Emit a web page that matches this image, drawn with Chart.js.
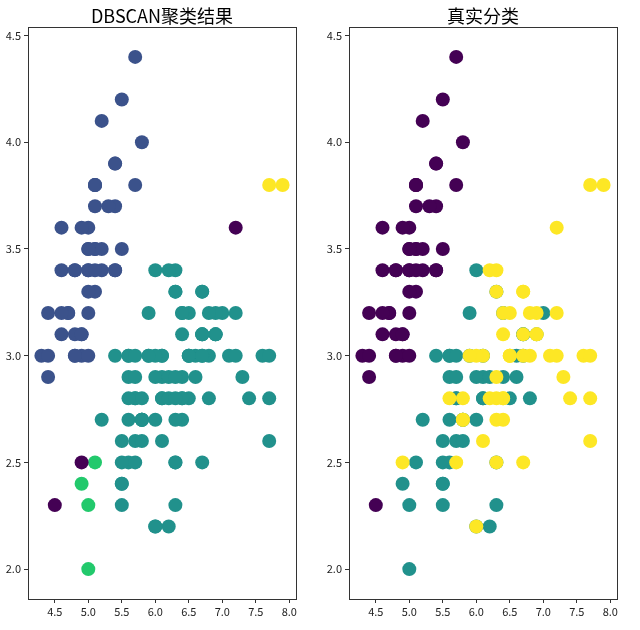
<!DOCTYPE html>
<html>
<head>
<meta charset="utf-8">
<script src="https://cdn.jsdelivr.net/npm/chart.js@4.4.0/dist/chart.umd.min.js"></script>
<style>
  body { margin: 0; background: #fff; }
  #wrap { position: relative; width: 640px; height: 630px; }
  canvas { position: absolute; top: 0; }
</style>
</head>
<body>
<div id="wrap">
  <canvas id="left" width="320" height="630" style="left:0"></canvas>
  <canvas id="right" width="320" height="630" style="left:321px"></canvas>
</div>
<script>
// iris: sepal length / sepal width
const sepalLength = [
  5.1,4.9,4.7,4.6,5.0,5.4,4.6,5.0,4.4,4.9,
  5.4,4.8,4.8,4.3,5.8,5.7,5.4,5.1,5.7,5.1,
  5.4,5.1,4.6,5.1,4.8,5.0,5.0,5.2,5.2,4.7,
  4.8,5.4,5.2,5.5,4.9,5.0,5.5,4.9,4.4,5.1,
  5.0,4.5,4.4,5.0,5.1,4.8,5.1,4.6,5.3,5.0,
  7.0,6.4,6.9,5.5,6.5,5.7,6.3,4.9,6.6,5.2,
  5.0,5.9,6.0,6.1,5.6,6.7,5.6,5.8,6.2,5.6,
  5.9,6.1,6.3,6.1,6.4,6.6,6.8,6.7,6.0,5.7,
  5.5,5.5,5.8,6.0,5.4,6.0,6.7,6.3,5.6,5.5,
  5.5,6.1,5.8,5.0,5.6,5.7,5.7,6.2,5.1,5.7,
  6.3,5.8,7.1,6.3,6.5,7.6,4.9,7.3,6.7,7.2,
  6.5,6.4,6.8,5.7,5.8,6.4,6.5,7.7,7.7,6.0,
  6.9,5.6,7.7,6.3,6.7,7.2,6.2,6.1,6.4,7.2,
  7.4,7.9,6.4,6.3,6.1,7.7,6.3,6.4,6.0,6.9,
  6.7,6.9,5.8,6.8,6.7,6.7,6.3,6.5,6.2,5.9
];
const sepalWidth = [
  3.5,3.0,3.2,3.1,3.6,3.9,3.4,3.4,2.9,3.1,
  3.7,3.4,3.0,3.0,4.0,4.4,3.9,3.5,3.8,3.8,
  3.4,3.7,3.6,3.3,3.4,3.0,3.4,3.5,3.4,3.2,
  3.1,3.4,4.1,4.2,3.1,3.2,3.5,3.6,3.0,3.4,
  3.5,2.3,3.2,3.5,3.8,3.0,3.8,3.2,3.7,3.3,
  3.2,3.2,3.1,2.3,2.8,2.8,3.3,2.4,2.9,2.7,
  2.0,3.0,2.2,2.9,2.9,3.1,3.0,2.7,2.2,2.5,
  3.2,2.8,2.5,2.8,2.9,3.0,2.8,3.0,2.9,2.6,
  2.4,2.4,2.7,2.7,3.0,3.4,3.1,2.3,3.0,2.5,
  2.6,3.0,2.6,2.3,2.7,3.0,2.9,2.9,2.5,2.8,
  3.3,2.7,3.0,2.9,3.0,3.0,2.5,2.9,2.5,3.6,
  3.2,2.7,3.0,2.5,2.8,3.2,3.0,3.8,2.6,2.2,
  3.2,2.8,2.8,2.7,3.3,3.2,2.8,3.0,2.8,3.0,
  2.8,3.8,2.8,2.8,2.6,3.0,3.4,3.1,3.0,3.1,
  3.1,3.1,2.7,3.2,3.3,3.0,2.5,3.0,3.4,3.0
];
const dbscanLabels = [
  0,0,0,0,0,0,0,0,0,0,
  0,0,0,0,0,0,0,0,0,0,
  0,0,0,0,0,0,0,0,0,0,
  0,0,0,0,0,0,0,0,0,0,
  0,-1,0,0,0,0,0,0,0,0,
  1,1,1,1,1,1,1,2,1,1,
  2,1,1,1,1,1,1,1,1,1,
  1,1,1,1,1,1,1,1,1,1,
  1,1,1,1,1,1,1,1,1,1,
  1,1,1,2,1,1,1,1,2,1,
  1,1,1,1,1,1,-1,1,1,-1,
  1,1,1,1,1,1,1,3,1,1,
  1,1,1,1,1,1,1,1,1,1,
  1,3,1,1,1,1,1,1,1,1,
  1,1,1,1,1,1,1,1,1,1
];
const trueLabels = [
  0,0,0,0,0,0,0,0,0,0,
  0,0,0,0,0,0,0,0,0,0,
  0,0,0,0,0,0,0,0,0,0,
  0,0,0,0,0,0,0,0,0,0,
  0,0,0,0,0,0,0,0,0,0,
  1,1,1,1,1,1,1,1,1,1,
  1,1,1,1,1,1,1,1,1,1,
  1,1,1,1,1,1,1,1,1,1,
  1,1,1,1,1,1,1,1,1,1,
  1,1,1,1,1,1,1,1,1,1,
  2,2,2,2,2,2,2,2,2,2,
  2,2,2,2,2,2,2,2,2,2,
  2,2,2,2,2,2,2,2,2,2,
  2,2,2,2,2,2,2,2,2,2,
  2,2,2,2,2,2,2,2,2,2
];
const xTicks = [4.5, 5.0, 5.5, 6.0, 6.5, 7.0, 7.5, 8.0];
const yTicks = [2.0, 2.5, 3.0, 3.5, 4.0, 4.5];

const FONT = "'Noto Sans CJK SC', 'DejaVu Sans', sans-serif";

// viridis colours
const dbscanColors = { '-1': '#440154', '0': '#3b528b', '1': '#21918c', '2': '#22c96c', '3': '#fde725' };
const trueColors = { '0': '#440154', '1': '#21918c', '2': '#fde725' };

const frame = {
  id: 'frame',
  afterDatasetsDraw(chart) {
    const a = chart.chartArea, ctx = chart.ctx;
    ctx.save();
    ctx.strokeStyle = '#333';
    ctx.lineWidth = 1;
    ctx.strokeRect(Math.round(a.left) + 0.5, Math.round(a.top) + 0.5,
      Math.round(a.right - a.left), Math.round(a.bottom - a.top));
    ctx.restore();
  }
};

function makeChart(id, title, labels, colors) {
  const pts = sepalLength.map((x, i) => ({ x: x, y: sepalWidth[i] }));
  new Chart(document.getElementById(id), {
    type: 'scatter',
    data: {
      datasets: [{
        data: pts,
        backgroundColor: labels.map(l => colors[l]),
        borderWidth: 0,
        pointRadius: 7,
        pointHoverRadius: 7
      }]
    },
    options: {
      responsive: false,
      animation: false,
      layout: { padding: { left: 0, right: 24, top: 0, bottom: 0 } },
      plugins: {
        legend: { display: false },
        tooltip: { enabled: false },
        title: {
          display: true, text: title, color: '#000', fullSize: false,
          font: { family: FONT, size: 18, weight: 'normal', lineHeight: 1.2 },
          padding: { top: 5.4, bottom: 0 }
        }
      },
      scales: {
        x: {
          type: 'linear', min: 4.1, max: 8.1,
          afterBuildTicks: s => { s.ticks = xTicks.map(v => ({ value: v })); },
          afterFit: s => { s.height = 31; },
          border: { display: false },
          grid: { drawOnChartArea: false, drawTicks: true, tickLength: 4, tickColor: '#333' },
          ticks: { color: '#222', padding: 2, maxRotation: 0, font: { family: FONT, size: 11 },
                   callback: v => v.toFixed(1) }
        },
        y: {
          type: 'linear', min: 1.86, max: 4.54,
          afterBuildTicks: s => { s.ticks = yTicks.map(v => ({ value: v })); },
          afterFit: s => { s.width = 28; },
          border: { display: false },
          grid: { drawOnChartArea: false, drawTicks: true, tickLength: 4, tickColor: '#333' },
          ticks: { color: '#222', padding: 3, font: { family: FONT, size: 11 },
                   callback: v => v.toFixed(1) }
        }
      }
    },
    plugins: [frame]
  });
}

makeChart('left', 'DBSCAN聚类结果', dbscanLabels, dbscanColors);
makeChart('right', '真实分类', trueLabels, trueColors);
</script>
</body>
</html>
